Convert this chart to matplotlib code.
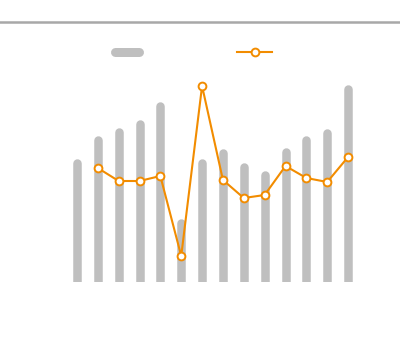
import matplotlib
matplotlib.use("Agg")
import matplotlib.pyplot as plt
from matplotlib.lines import Line2D
from matplotlib.transforms import offset_copy
import numpy as np

categories = [f"C{i}" for i in range(1, 15)]
bar_values = [123, 146, 154, 162, 180, 63, 123, 133, 119, 111, 134, 146, 153, 197]
line_values = [None, 114, 101, 101, 106, 26, 196, 102, 84, 87, 116, 104, 100, 125]

W, H, DPI = 400, 353, 100
fig = plt.figure(figsize=(W / DPI, H / DPI), dpi=DPI)
fig.patch.set_facecolor("white")

# axes in pixel coordinates
left_px, right_px, bottom_px, top_px = 66.5, 358.5, 282, 32
ax = fig.add_axes([left_px / W, 1 - bottom_px / H, (right_px - left_px) / W, (bottom_px - top_px) / H])
ax.set_xlim(-0.5, len(categories) - 0.5)
ax.set_ylim(0, 250)
ax.axis("off")

gray = "#bfbfbf"
orange = "#f28c00"
bar_px = 8.5
cap = bar_px / 2
lw_bar = bar_px * 72 / DPI

x = np.arange(len(categories))
tr = offset_copy(ax.transData, fig=fig, x=0, y=-cap, units="dots")
for xi, v in zip(x, bar_values):
    ax.plot([xi, xi], [-20, v], color=gray, lw=lw_bar, solid_capstyle="round",
            transform=tr, clip_on=True, zorder=1)

lx = [xi for xi, v in zip(x, line_values) if v is not None]
ly = [v for v in line_values if v is not None]
ax.plot(lx, ly, color=orange, lw=1.5, marker="o", ms=5.6, mfc="white", mec=orange,
        mew=1.4, zorder=3, clip_on=False)

# top rule
fig.add_artist(Line2D([0, 1], [1 - 22.3 / H] * 2, color="#a8a8a8", lw=1.8))

# legend
fig.add_artist(Line2D([115 / W, 139 / W], [1 - 52 / H] * 2, color=gray, lw=9 * 72 / DPI,
                      solid_capstyle="round"))
fig.add_artist(Line2D([237 / W, 272 / W], [1 - 52 / H] * 2, color=orange, lw=1.5))
fig.add_artist(Line2D([254.5 / W], [1 - 52 / H], color=orange, marker="o", ms=5.6,
                      mfc="white", mec=orange, mew=1.4, lw=0))

fig.savefig("out.png", dpi=DPI)
